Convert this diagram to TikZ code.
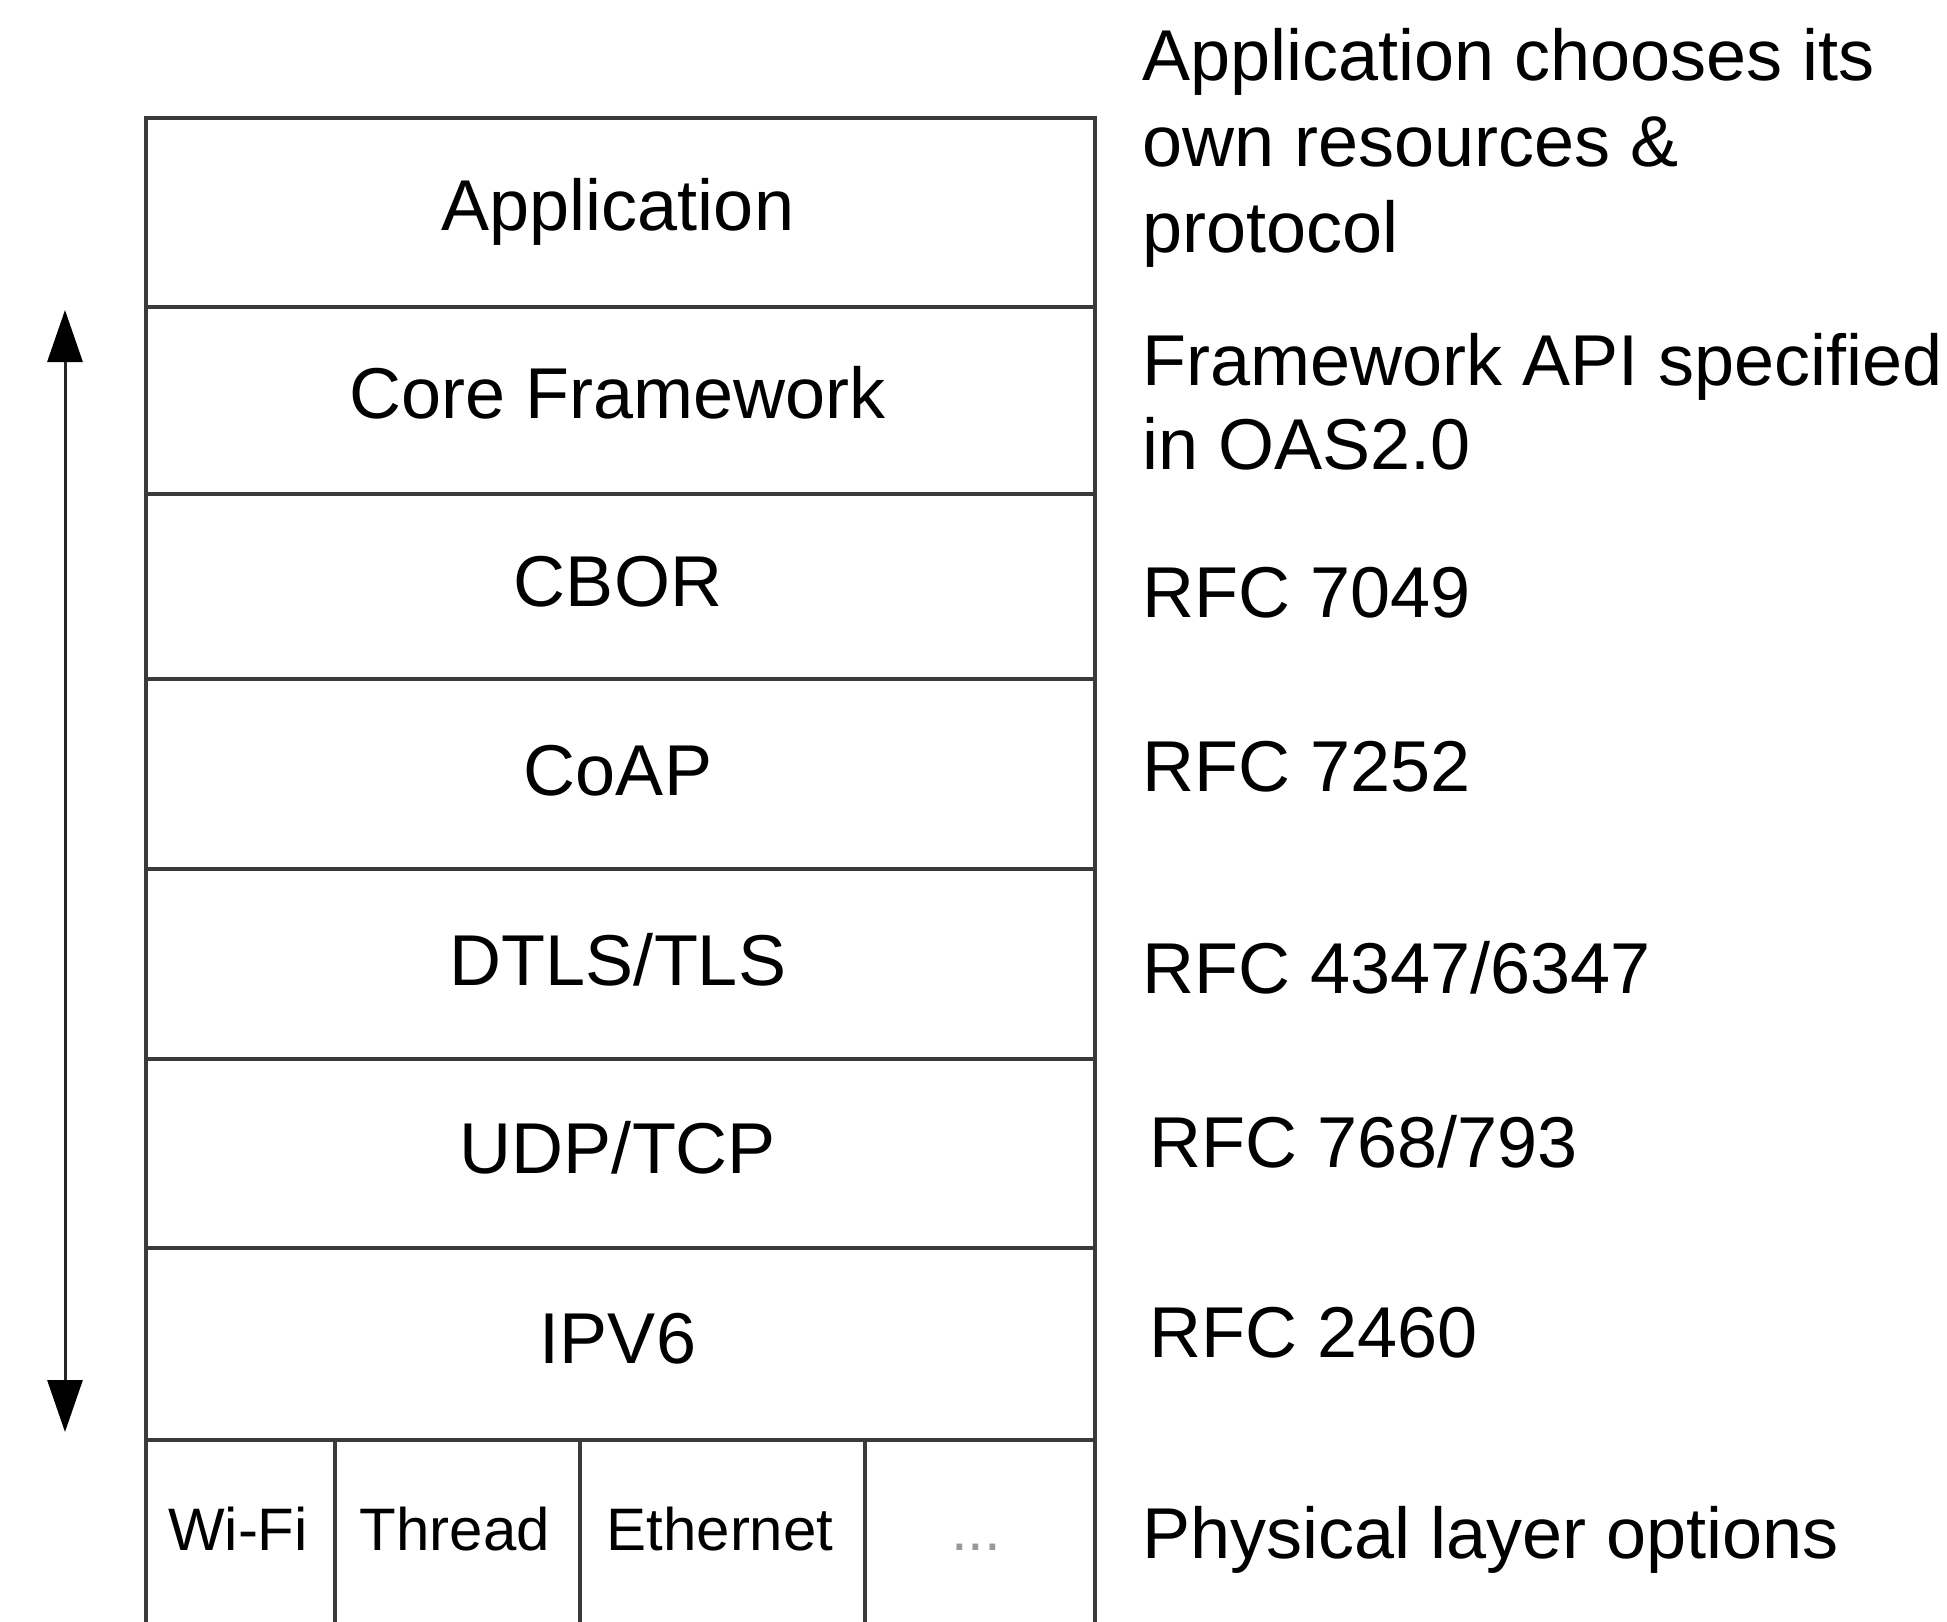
\documentclass[tikz,border=0pt]{standalone}
\usepackage{fontspec}
\setmainfont{Liberation Sans}
\usetikzlibrary{arrows.meta}
\definecolor{linec}{HTML}{3A3A3A}
\begin{document}
\begin{tikzpicture}[x=1pt,y=1pt,
  layer/.style={draw=linec,line width=3.5pt,rectangle,inner sep=0pt,outer sep=0pt,minimum width=949pt},
  big/.style={font=\fontsize{72}{86}\selectfont,inner sep=0pt},
  small/.style={font=\fontsize{60}{72}\selectfont,inner sep=0pt},
  note/.style={font=\fontsize{72}{86}\selectfont,inner sep=0pt,anchor=base west}]
\useasboundingbox[fill=white] (0,0) rectangle (1947,-1622);
% layers
\node[layer,minimum height=189pt,anchor=north west] (app) at (146,-118) {};
\node[layer,minimum height=187pt,anchor=north west] (core) at (146,-307) {};
\node[layer,minimum height=185pt,anchor=north west] (cbor) at (146,-494) {};
\node[layer,minimum height=190pt,anchor=north west] (coap) at (146,-679) {};
\node[layer,minimum height=190pt,anchor=north west] (dtls) at (146,-869) {};
\node[layer,minimum height=189pt,anchor=north west] (udp) at (146,-1059) {};
\node[layer,minimum height=192pt,anchor=north west] (ipv6) at (146,-1248) {};
% labels
\node[big,anchor=base] (tapp) at (618,-230) {Application};
\node[big,anchor=base] (tcore) at (618,-418) {Core Framework};
\node[big,anchor=base] (tcbor) at (618,-606) {CBOR};
\node[big,anchor=base] (tcoap) at (618,-795) {CoAP};
\node[big,anchor=base] (tdtls) at (618,-985) {DTLS/TLS};
\node[big,anchor=base] (tudp) at (618,-1173) {UDP/TCP};
\node[big,anchor=base] (tipv6) at (618,-1363) {IPV6};
% physical layer cells (open at the bottom)
\coordinate (p0) at (ipv6.south west);
\coordinate (p1) at (335,-1440);
\coordinate (p2) at (580,-1440);
\coordinate (p3) at (865,-1440);
\coordinate (p4) at (ipv6.south east);
\coordinate (b0) at (146,-1622);
\coordinate (b1) at (335,-1622);
\coordinate (b2) at (580,-1622);
\coordinate (b3) at (865,-1622);
\coordinate (b4) at (1095,-1622);
\draw[linec,line width=3.5pt] (b0) -- (p0) -- (p4) -- (b4);
\draw[linec,line width=3.5pt] (p1) -- (b1);
\draw[linec,line width=3.5pt] (p2) -- (b2);
\draw[linec,line width=3.5pt] (p3) -- (b3);
\node[small,anchor=base] (wifi) at (238,-1550) {Wi-Fi};
\node[small,anchor=base] (thread) at (455,-1550) {Thread};
\node[small,anchor=base] (eth) at (720,-1550) {Ethernet};
\node[small,anchor=base,text=gray!80] (more) at (976,-1550) {...};
% arrow
\coordinate (atop) at (65,-310);
\coordinate (abot) at (65,-1432);
\draw[line width=3pt,black!85,{Triangle[width=35pt,length=52pt,fill=black,color=black]}-{Triangle[width=35pt,length=52pt,fill=black,color=black]}] (atop) -- (abot);
% notes
\node[note] (n1a) at (1142,-80) {Application chooses its};
\node[note] (n1b) at (1142,-166) {own resources \&};
\node[note] (n1c) at (1142,-252) {protocol};
\node[note] (n2a) at (1142,-385) {Framework API specified};
\node[note] (n2b) at (1142,-469) {in OAS2.0};
\node[note] (n3) at (1142,-617) {RFC 7049};
\node[note] (n4) at (1142,-791) {RFC 7252};
\node[note] (n5) at (1142,-993) {RFC 4347/6347};
\node[note] (n6) at (1149,-1167) {RFC 768/793};
\node[note] (n7) at (1149,-1357) {RFC 2460};
\node[note] (n8) at (1142,-1558) {Physical layer options};
\end{tikzpicture}
\end{document}
